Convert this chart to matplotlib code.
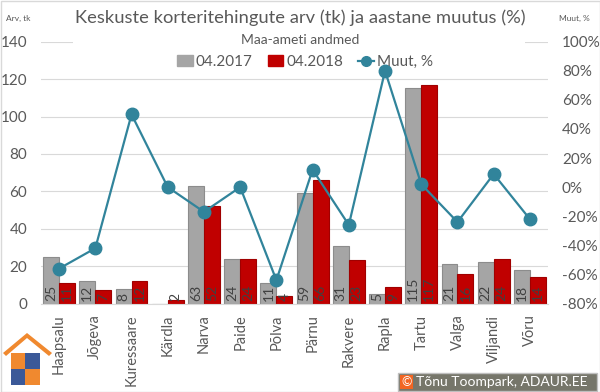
import numpy as np
import matplotlib.pyplot as plt
from matplotlib.patches import Rectangle, Polygon
from matplotlib.lines import Line2D

plt.rcParams['font.family'] = ['Lato', 'DejaVu Sans']

cities = ["Haapsalu", "Jõgeva", "Kuressaare", "Kärdla", "Narva", "Paide", "Põlva",
          "Pärnu", "Rakvere", "Rapla", "Tartu", "Valga", "Viljandi", "Võru"]
arv_2017 = [25, 12, 8, 0, 63, 24, 11, 59, 31, 5, 115, 21, 22, 18]
arv_2018 = [11, 7, 12, 2, 52, 24, 4, 66, 23, 9, 117, 16, 24, 14]
muut = [-56, -42, 50, 0, -17, 0, -64, 12, -26, 80, 2, -24, 9, -22]

GRAY = "#a5a5a5"
RED = "#c00000"
TEAL = "#31849b"
TXT = "#595959"

fig = plt.figure(figsize=(6, 3.92), dpi=100)
ax = fig.add_axes([41 / 600, 1 - 303.5 / 392, 507 / 600, 261.8 / 392])

x = np.arange(len(cities))
w = 0.44
ax.bar(x - w / 2, arv_2017, w, color=GRAY, edgecolor="#8c8c8c", linewidth=0.8, zorder=2)
ax.bar(x + w / 2, arv_2018, w, color=RED, edgecolor="#a00000", linewidth=0.8, zorder=2)

for xi, v in zip(x - w / 2, arv_2017):
    if v:
        ax.annotate(str(v), (xi, 0), xytext=(0, 1.5), textcoords="offset points",
                    rotation=90, ha="center", va="bottom", fontsize=10, color="#404040", zorder=3)
for xi, v in zip(x + w / 2, arv_2018):
    if v:
        ax.annotate(str(v), (xi, 0), xytext=(0, 1.5), textcoords="offset points",
                    rotation=90, ha="center", va="bottom", fontsize=10, color="#404040", zorder=3)

ax.set_xlim(-0.5, len(cities) - 0.5)
ax.set_ylim(0, 140)
ax.set_yticks(range(0, 141, 20))
ax.grid(axis="y", color="#d9d9d9", linewidth=0.8, zorder=0)
ax.set_axisbelow(True)
ax.set_xticks(x)
ax.set_xticklabels(cities, rotation=90, fontsize=10.5, color=TXT, va="top")
ax.tick_params(axis="x", length=0, pad=8)
ax.tick_params(axis="y", length=0, labelsize=11, labelcolor=TXT, pad=10)
for s in ["top", "left", "right"]:
    ax.spines[s].set_visible(False)
ax.spines["bottom"].set_color("#d9d9d9")

ax2 = ax.twinx()
ax2.plot(x, muut, color=TEAL, linewidth=1.6, marker="o", markersize=9, zorder=4)
ax2.set_ylim(-80, 100)
ax2.set_yticks(range(-80, 101, 20))
ax2.set_yticklabels([f"{t}%" for t in range(-80, 101, 20)])
ax2.tick_params(axis="y", length=0, labelsize=11, labelcolor=TXT, pad=10)
for s in ax2.spines.values():
    s.set_visible(False)

# overlay for header, logo and credit
ov = fig.add_axes([0, 0, 1, 1], zorder=10)
ov.set_xlim(0, 600)
ov.set_ylim(392, 0)
ov.axis("off")
ov.patch.set_alpha(0)

ov.add_patch(Rectangle((0.5, 0.5), 599, 391, fill=False, edgecolor="#d9d9d9", linewidth=1))
ov.add_patch(Rectangle((73, 35), 452, 13, facecolor="white", edgecolor="none"))

ov.text(300, 18, "Keskuste korteritehingute arv (tk) ja aastane muutus (%)",
        ha="center", va="center", fontsize=13.2, color=TXT)
ov.text(300, 40, "Maa-ameti andmed", ha="center", va="center", fontsize=10, color=TXT)
ov.text(18, 18, "Arv, tk", ha="center", va="center", fontsize=6, color=TXT)
ov.text(574, 18, "Muut, %", ha="center", va="center", fontsize=6, color=TXT)

handles = [Rectangle((0, 0), 1, 1, color=GRAY),
           Rectangle((0, 0), 1, 1, color=RED),
           Line2D([], [], color=TEAL, linewidth=1.6, marker="o", markersize=7)]
ov.legend(handles, ["04.2017", "04.2018", "Muut, %"], loc="center",
          bbox_to_anchor=(305 / 600, 1 - 62 / 392), ncol=3, frameon=False,
          fontsize=11, labelcolor=TXT, handlelength=1.0, handletextpad=0.2,
          columnspacing=1.0, borderaxespad=0)

# logo
ov.add_patch(Polygon([(3, 353), (27, 333), (52, 353), (49, 356), (27, 338), (6, 356)],
                     closed=True, facecolor="#f0892f", edgecolor="none"))
ov.add_patch(Rectangle((11, 353), 14, 16, facecolor="#f0892f"))
ov.add_patch(Rectangle((25, 353), 15, 16, facecolor="#3b5998"))
ov.add_patch(Rectangle((11, 369), 14, 16, facecolor="#3b5998"))
ov.add_patch(Rectangle((25, 369), 15, 16, facecolor="#f0892f"))

# credit box
ov.add_patch(Rectangle((398, 373), 199, 18, facecolor="#76766a", edgecolor="#bfbfbf", linewidth=1))
ov.add_patch(Rectangle((400, 375), 13, 14, facecolor="#f26522", edgecolor="none"))
ov.text(406.5, 382, "©", ha="center", va="center", fontsize=9, color="white")
ov.text(416, 382.5, "Tõnu Toompark, ADAUR.EE", ha="left", va="center", fontsize=10, color="white")

fig.savefig("out.png", dpi=100)
